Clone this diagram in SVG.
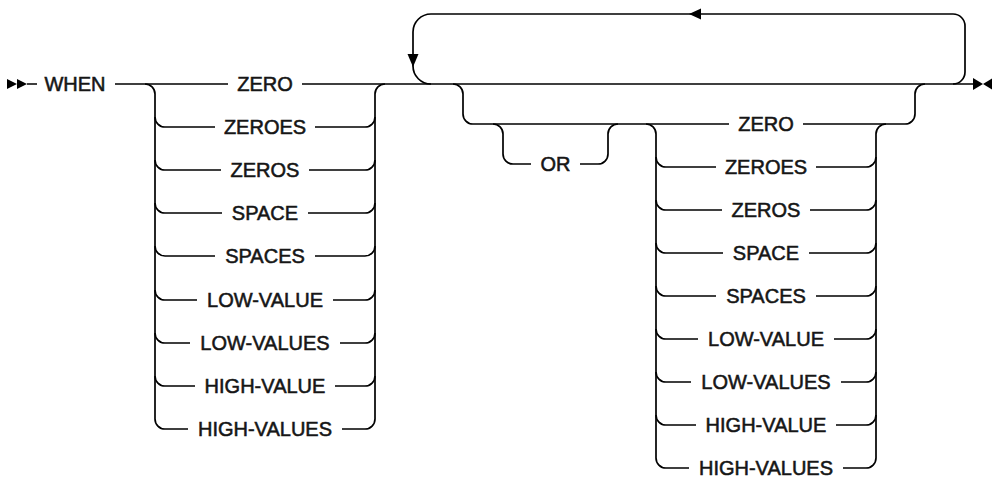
<svg xmlns="http://www.w3.org/2000/svg" width="992" height="478" viewBox="0 0 992 478">
<style>
.ln{fill:none;stroke:#000;stroke-width:1.7;stroke-linejoin:round}
.ah{fill:#000;stroke:none}
text{font-family:"Liberation Sans",Arial,sans-serif;font-size:20px;font-weight:normal;fill:#161616;stroke:#161616;stroke-width:0.55;text-anchor:middle}
</style>
<rect width="992" height="478" fill="#fff"/>
<g id="connectors">
<polygon class="ah" points="7,79 17,84 7,89"/>
<polygon class="ah" points="17,79 27,84 17,89"/>
<path class="ln" d="M27,84 H37 M115,84 H228 M302,84 H975"/>
<path class="ln" d="M145,84 A10 10 0 0 1 155,94 V419 A10 10 0 0 0 165,429 H188"/>
<path class="ln" d="M342,429 H365 A10 10 0 0 0 375,419 V94 A10 10 0 0 1 385,84"/>
<path class="ln" d="M155,117 A10 10 0 0 0 165,127 H215 M315,127 H365 A10 10 0 0 0 375,117"/>
<path class="ln" d="M155,160 A10 10 0 0 0 165,170 H221 M309,170 H365 A10 10 0 0 0 375,160"/>
<path class="ln" d="M155,203 A10 10 0 0 0 165,213 H222 M308,213 H365 A10 10 0 0 0 375,203"/>
<path class="ln" d="M155,246 A10 10 0 0 0 165,256 H215 M315,256 H365 A10 10 0 0 0 375,246"/>
<path class="ln" d="M155,290 A10 10 0 0 0 165,300 H197 M333,300 H365 A10 10 0 0 0 375,290"/>
<path class="ln" d="M155,333 A10 10 0 0 0 165,343 H190 M340,343 H365 A10 10 0 0 0 375,333"/>
<path class="ln" d="M155,376 A10 10 0 0 0 165,386 H195 M335,386 H365 A10 10 0 0 0 375,376"/>
<path class="ln" d="M953,84 A12 12 0 0 0 965,72 V26 A12 12 0 0 0 953,14 H431 A18 18 0 0 0 413,32 V66 A18 18 0 0 0 431,84"/>
<polygon class="ah" points="407.5,54 418.5,54 413,67"/>
<polygon class="ah" points="689,14 701,8.5 701,19.5"/>
<path class="ln" d="M453,84 A10 10 0 0 1 463,94 V114 A10 10 0 0 0 473,124 H729 M803,124 H905 A10 10 0 0 0 915,114 V94 A10 10 0 0 1 925,84"/>
<path class="ln" d="M493,124 A10 10 0 0 1 503,134 V154 A10 10 0 0 0 513,164 H531 M580,164 H598 A10 10 0 0 0 608,154 V134 A10 10 0 0 1 618,124"/>
<path class="ln" d="M646,124 A10 10 0 0 1 656,134 V458 A10 10 0 0 0 666,468 H689"/>
<path class="ln" d="M843,468 H866 A10 10 0 0 0 876,458 V134 A10 10 0 0 1 886,124"/>
<path class="ln" d="M656,157 A10 10 0 0 0 666,167 H716 M816,167 H866 A10 10 0 0 0 876,157"/>
<path class="ln" d="M656,200 A10 10 0 0 0 666,210 H722 M810,210 H866 A10 10 0 0 0 876,200"/>
<path class="ln" d="M656,243 A10 10 0 0 0 666,253 H723 M809,253 H866 A10 10 0 0 0 876,243"/>
<path class="ln" d="M656,286 A10 10 0 0 0 666,296 H716 M816,296 H866 A10 10 0 0 0 876,286"/>
<path class="ln" d="M656,329 A10 10 0 0 0 666,339 H698 M834,339 H866 A10 10 0 0 0 876,329"/>
<path class="ln" d="M656,372 A10 10 0 0 0 666,382 H691 M841,382 H866 A10 10 0 0 0 876,372"/>
<path class="ln" d="M656,415 A10 10 0 0 0 666,425 H696 M836,425 H866 A10 10 0 0 0 876,415"/>
<polygon class="ah" points="973,78 983,84 973,90"/>
<polygon class="ah" points="993,78 983,84 993,90"/>
</g>
<g id="kw-when"><text x="75" y="91">WHEN</text></g>
<g id="g1-zero"><text x="265" y="91">ZERO</text></g>
<g id="g1-zeroes"><text x="265" y="134">ZEROES</text></g>
<g id="g1-zeros"><text x="265" y="177">ZEROS</text></g>
<g id="g1-space"><text x="265" y="220">SPACE</text></g>
<g id="g1-spaces"><text x="265" y="263">SPACES</text></g>
<g id="g1-low-value"><text x="265" y="307">LOW-VALUE</text></g>
<g id="g1-low-values"><text x="265" y="350">LOW-VALUES</text></g>
<g id="g1-high-value"><text x="265" y="393">HIGH-VALUE</text></g>
<g id="g1-high-values"><text x="265" y="436">HIGH-VALUES</text></g>
<g id="kw-or"><text x="555.5" y="171">OR</text></g>
<g id="g2-zero"><text x="766" y="131">ZERO</text></g>
<g id="g2-zeroes"><text x="766" y="174">ZEROES</text></g>
<g id="g2-zeros"><text x="766" y="217">ZEROS</text></g>
<g id="g2-space"><text x="766" y="260">SPACE</text></g>
<g id="g2-spaces"><text x="766" y="303">SPACES</text></g>
<g id="g2-low-value"><text x="766" y="346">LOW-VALUE</text></g>
<g id="g2-low-values"><text x="766" y="389">LOW-VALUES</text></g>
<g id="g2-high-value"><text x="766" y="432">HIGH-VALUE</text></g>
<g id="g2-high-values"><text x="766" y="475">HIGH-VALUES</text></g>
</svg>
